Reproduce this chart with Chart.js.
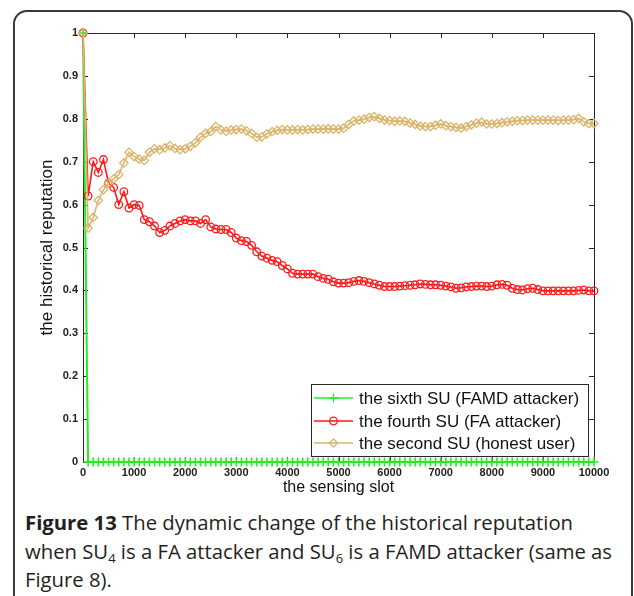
<!DOCTYPE html>
<html>
<head>
<meta charset="utf-8">
<script src="https://cdn.jsdelivr.net/npm/chart.js@4.4.1/dist/chart.umd.min.js"></script>
<style>
  html, body { margin: 0; padding: 0; background: #fff; width: 634px; height: 596px; overflow: hidden; }
  #frame { position: absolute; left: 13px; top: 10px; width: 620px; height: 640px; border: 2px solid #3a3a3a; border-radius: 14px; box-sizing: border-box; }
  #wrap { position: absolute; left: 0; top: 0; width: 634px; height: 505px; }
  #caption { position: absolute; left: 25px; top: 508px; width: 620px; white-space: nowrap; font-family: "Open Sans", sans-serif; font-size: 20.3px; line-height: 28.5px; color: #231f20; }
  #caption b { font-weight: 700; }
  #caption sub { font-size: 13px; vertical-align: -4px; line-height: 0; }
</style>
</head>
<body>
<div id="frame"></div>
<div id="wrap"><canvas id="chart"></canvas></div>
<div id="caption"><b>Figure 13</b> The dynamic change of the historical reputation<br>when SU<sub>4</sub> is a FA attacker and SU<sub>6</sub> is a FAMD attacker (same as<br>Figure 8).</div>

<script>
// sensing slots where each curve was sampled
const SLOTS = [
  0, 100, 200, 300, 400, 500, 600, 700, 800, 900,
  1000, 1100, 1200, 1300, 1400, 1500, 1600, 1700, 1800, 1900,
  2000, 2100, 2200, 2300, 2400, 2500, 2600, 2700, 2800, 2900,
  3000, 3100, 3200, 3300, 3400, 3500, 3600, 3700, 3800, 3900,
  4000, 4100, 4200, 4300, 4400, 4500, 4600, 4700, 4800, 4900,
  5000, 5100, 5200, 5300, 5400, 5500, 5600, 5700, 5800, 5900,
  6000, 6100, 6200, 6300, 6400, 6500, 6600, 6700, 6800, 6900,
  7000, 7100, 7200, 7300, 7400, 7500, 7600, 7700, 7800, 7900,
  8000, 8100, 8200, 8300, 8400, 8500, 8600, 8700, 8800, 8900,
  9000, 9100, 9200, 9300, 9400, 9500, 9600, 9700, 9800, 9900,
  10000
];

// SU6, FAMD attacker
const SIXTH = [
  1, 0, 0, 0, 0, 0, 0, 0, 0, 0,
  0, 0, 0, 0, 0, 0, 0, 0, 0, 0,
  0, 0, 0, 0, 0, 0, 0, 0, 0, 0,
  0, 0, 0, 0, 0, 0, 0, 0, 0, 0,
  0, 0, 0, 0, 0, 0, 0, 0, 0, 0,
  0, 0, 0, 0, 0, 0, 0, 0, 0, 0,
  0, 0, 0, 0, 0, 0, 0, 0, 0, 0,
  0, 0, 0, 0, 0, 0, 0, 0, 0, 0,
  0, 0, 0, 0, 0, 0, 0, 0, 0, 0,
  0, 0, 0, 0, 0, 0, 0, 0, 0, 0,
  0
];

// SU4, FA attacker
const FOURTH = [
  1, 0.62, 0.70, 0.675, 0.705, 0.65, 0.64, 0.60, 0.63, 0.592,
  0.60, 0.598, 0.565, 0.56, 0.55, 0.535, 0.54, 0.55, 0.556, 0.562,
  0.565, 0.562, 0.562, 0.556, 0.565, 0.548, 0.543, 0.542, 0.542, 0.535,
  0.522, 0.516, 0.514, 0.505, 0.49, 0.48, 0.475, 0.47, 0.467, 0.458,
  0.45, 0.44, 0.438, 0.438, 0.438, 0.438, 0.432, 0.428, 0.426, 0.42,
  0.417, 0.417, 0.418, 0.421, 0.423, 0.421, 0.418, 0.415, 0.412, 0.409,
  0.409, 0.409, 0.41, 0.411, 0.412, 0.413, 0.415, 0.414, 0.413, 0.413,
  0.412, 0.41, 0.408, 0.405, 0.406, 0.408, 0.409, 0.41, 0.41, 0.409,
  0.41, 0.413, 0.414, 0.412, 0.405, 0.402, 0.401, 0.404, 0.405, 0.402,
  0.399, 0.399, 0.399, 0.399, 0.399, 0.399, 0.399, 0.40, 0.401, 0.399,
  0.399
];

// SU2, honest user
const SECOND = [
  1, 0.545, 0.57, 0.61, 0.635, 0.65, 0.66, 0.67, 0.697, 0.722,
  0.712, 0.706, 0.703, 0.722, 0.73, 0.728, 0.732, 0.737, 0.731, 0.728,
  0.73, 0.736, 0.744, 0.757, 0.766, 0.77, 0.782, 0.774, 0.771, 0.774,
  0.775, 0.776, 0.772, 0.766, 0.757, 0.758, 0.765, 0.77, 0.773, 0.775,
  0.774, 0.774, 0.775, 0.774, 0.775, 0.776, 0.776, 0.776, 0.777, 0.776,
  0.776, 0.778, 0.787, 0.795, 0.797, 0.799, 0.803, 0.805, 0.801, 0.797,
  0.796, 0.794, 0.795, 0.794, 0.79, 0.787, 0.783, 0.782, 0.782, 0.785,
  0.788, 0.784, 0.782, 0.78, 0.778, 0.782, 0.786, 0.79, 0.792, 0.788,
  0.788, 0.789, 0.791, 0.793, 0.794, 0.796, 0.796, 0.797, 0.797, 0.797,
  0.797, 0.797, 0.797, 0.796, 0.797, 0.797, 0.798, 0.801, 0.793, 0.789,
  0.789
];

const X_TICKS = [0, 1000, 2000, 3000, 4000, 5000, 6000, 7000, 8000, 9000, 10000];
const X_TICK_LABELS = ['0', '1000', '2000', '3000', '4000', '5000', '6000', '7000', '8000', '9000', '10000'];
const Y_TICKS = [0, 0.1, 0.2, 0.3, 0.4, 0.5, 0.6, 0.7, 0.8, 0.9, 1];
const Y_TICK_LABELS = ['0', '0.1', '0.2', '0.3', '0.4', '0.5', '0.6', '0.7', '0.8', '0.9', '1'];
const SERIES_NAMES = ['the sixth SU (FAMD attacker)', 'the fourth SU (FA attacker)', 'the second SU (honest user)'];
const X_TITLE = 'the sensing slot';
const Y_TITLE = 'the historical reputation';

const COLORS = { green: '#22ee22', red: '#ff1a1a', tan: '#dcb46c', axis: '#262626' };

function pts(ys) { return SLOTS.map((s, i) => ({ x: s, y: ys[i] })); }

// box, inward ticks, titles, legend (matlab look)
const matlabAxes = {
  id: 'matlabAxes',
  beforeDatasetsDraw(chart) {
    const { ctx, chartArea: a, scales: { x, y } } = chart;
    ctx.save();
    ctx.strokeStyle = COLORS.axis;
    ctx.lineWidth = 1;
    ctx.strokeRect(a.left + 0.5, a.top + 0.5, a.right - a.left, a.bottom - a.top);
    ctx.beginPath();
    X_TICKS.forEach(v => {
      const px = Math.round(x.getPixelForValue(v)) + 0.5;
      ctx.moveTo(px, a.bottom); ctx.lineTo(px, a.bottom - 5);
      ctx.moveTo(px, a.top); ctx.lineTo(px, a.top + 5);
    });
    Y_TICKS.forEach(v => {
      const py = Math.round(y.getPixelForValue(v)) + 0.5;
      ctx.moveTo(a.left, py); ctx.lineTo(a.left + 5, py);
      ctx.moveTo(a.right, py); ctx.lineTo(a.right - 5, py);
    });
    ctx.stroke();
    ctx.restore();
  },
  afterDatasetsDraw(chart) {
    const { ctx, chartArea: a } = chart;
    ctx.save();
    // axis titles
    ctx.fillStyle = '#111';
    ctx.font = '16px Arial, "Liberation Sans"';
    ctx.textAlign = 'center';
    ctx.textBaseline = 'middle';
    ctx.fillText(X_TITLE, (a.left + a.right) / 2, 488);
    ctx.translate(47, (a.top + a.bottom) / 2);
    ctx.rotate(-Math.PI / 2);
    ctx.font = '17px Arial, "Liberation Sans"';
    ctx.fillText(Y_TITLE, 0, 0);
    ctx.restore();

    // legend
    ctx.save();
    const lx = 311, ly = 384, lw = 277, lh = 72;
    ctx.fillStyle = '#fff';
    ctx.fillRect(lx, ly, lw, lh);
    ctx.strokeStyle = COLORS.axis;
    ctx.lineWidth = 1;
    ctx.strokeRect(lx + 0.5, ly + 0.5, lw, lh);
    const rows = [398, 421, 443];
    chart.data.datasets.forEach((ds, i) => {
      const ry = rows[i];
      ctx.strokeStyle = ds.borderColor;
      ctx.lineWidth = 1.6;
      ctx.beginPath(); ctx.moveTo(314, ry); ctx.lineTo(353, ry); ctx.stroke();
      ctx.lineWidth = 1.3;
      ctx.fillStyle = 'rgba(0,0,0,0)';
      Chart.helpers.drawPoint(ctx, { pointStyle: ds.pointStyle, radius: ds.pointRadius, rotation: 0, borderWidth: 1.3 }, 333.5, ry);
      ctx.fillStyle = '#111';
      ctx.font = '17px Arial, "Liberation Sans"';
      ctx.textAlign = 'left';
      ctx.textBaseline = 'middle';
      ctx.fillText(SERIES_NAMES[i], 359, ry + 1);
    });
    ctx.restore();
  }
};

new Chart(document.getElementById('chart'), {
  type: 'line',
  data: {
    datasets: [
      { label: SERIES_NAMES[0], data: pts(SIXTH), borderColor: COLORS.green, backgroundColor: 'transparent',
        pointStyle: 'cross', pointRadius: 4.5, pointBorderWidth: 1.6, borderWidth: 2, order: 3, clip: false },
      { label: SERIES_NAMES[1], data: pts(FOURTH), borderColor: COLORS.red, backgroundColor: 'transparent',
        pointStyle: 'circle', pointRadius: 3.8, pointBorderWidth: 1.3, borderWidth: 1.6, order: 2, clip: false },
      { label: SERIES_NAMES[2], data: pts(SECOND), borderColor: COLORS.tan, backgroundColor: 'transparent',
        pointStyle: 'rectRot', pointRadius: 4.2, pointBorderWidth: 1.3, borderWidth: 1.6, order: 1, clip: false }
    ]
  },
  options: {
    responsive: true, maintainAspectRatio: false, animation: false,
    layout: { padding: { left: 0, top: 33, right: 40, bottom: 0 } },
    plugins: { legend: { display: false }, tooltip: { enabled: false } },
    elements: { line: { tension: 0 } },
    scales: {
      x: {
        type: 'linear', min: 0, max: 10000,
        afterFit: s => { s.height = 43; },
        afterBuildTicks: s => { s.ticks = X_TICKS.map(v => ({ value: v })); },
        grid: { display: false, drawTicks: false }, border: { display: false },
        ticks: { padding: 4, color: '#222', font: { family: 'Arial', size: 11, weight: 'bold' }, maxRotation: 0, autoSkip: false,
          callback: (v, i) => X_TICK_LABELS[i] }
      },
      y: {
        type: 'linear', min: 0, max: 1,
        afterFit: s => { s.width = 83; },
        afterBuildTicks: s => { s.ticks = Y_TICKS.map(v => ({ value: v })); },
        grid: { display: false, drawTicks: false }, border: { display: false },
        ticks: { padding: 5, color: '#222', font: { family: 'Arial', size: 11, weight: 'bold' },
          callback: (v, i) => Y_TICK_LABELS[i] }
      }
    }
  },
  plugins: [matlabAxes]
});
</script>
</body>
</html>
